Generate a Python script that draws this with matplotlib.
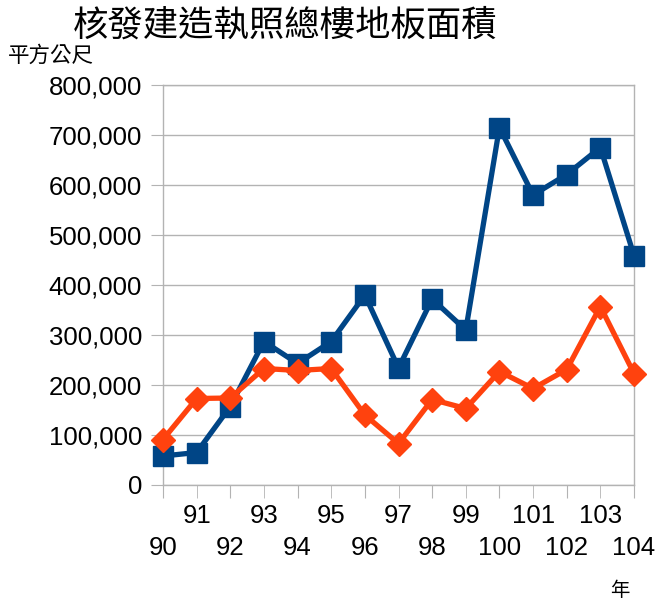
import matplotlib
matplotlib.use("Agg")
import matplotlib.pyplot as plt
from matplotlib.ticker import FuncFormatter, FixedLocator

years = list(range(90, 105))
series_blue = [58000, 65000, 157000, 287000, 243000, 287000, 380000, 234000,
               372000, 310000, 715000, 580000, 621000, 675000, 459000]
series_orange = [91000, 173000, 174000, 233000, 229000, 233000, 140000, 83000,
                 171000, 153000, 227000, 193000, 231000, 357000, 223000]
title = "核發建造執照總樓地板面積"
ylabel = "平方公尺"
xlabel = "年"

cjk = ["Noto Sans CJK TC", "DejaVu Sans"]
num_font = "Liberation Sans"

fig = plt.figure(figsize=(6.56, 6.03), dpi=100)
ax = fig.add_axes([163/656, 118/603, (634-163)/656, 400/603])

ax.plot(years, series_blue, color="#004586", lw=3.8, marker="s", ms=15,
        clip_on=False, zorder=3)
ax.plot(years, series_orange, color="#ff420e", lw=3.8, marker="D", ms=12,
        clip_on=False, zorder=4)

ax.set_xlim(90, 104)
ax.set_ylim(0, 800000)
ax.set_yticks(range(0, 800001, 100000))
ax.yaxis.set_major_formatter(FuncFormatter(lambda v, p: f"{int(v):,}"))
ax.grid(axis="y", color="#b3b3b3", lw=1)
ax.set_axisbelow(True)
for s in ax.spines.values():
    s.set_color("#b3b3b3")
    s.set_linewidth(1)

even = [y for y in years if y % 2 == 0]
odd = [y for y in years if y % 2 == 1]
ax.xaxis.set_major_locator(FixedLocator(even))
ax.xaxis.set_minor_locator(FixedLocator(odd))
ax.set_xticklabels([str(y) for y in even])
ax.set_xticklabels([str(y) for y in odd], minor=True)
ax.tick_params(axis="x", which="major", length=9, color="#b3b3b3", pad=28, labelsize=18.5)
ax.tick_params(axis="x", which="minor", length=9, color="#b3b3b3", pad=5, labelsize=18.5)
ax.tick_params(axis="y", length=9, color="#b3b3b3", pad=6, labelsize=18.5)
for lab in ax.get_xticklabels(which="both") + ax.get_yticklabels():
    lab.set_fontfamily(num_font)

fig.text(285/656, 1 - 26/603, title, ha="center", va="center",
         fontsize=25.5, family=cjk)
fig.text(8/656, 1 - 56/603, ylabel, ha="left", va="center",
         fontsize=15.5, family=cjk)
fig.text(620/656, 1 - 590/603, xlabel, ha="center", va="center",
         fontsize=14, family=cjk)

fig.savefig("out.png", dpi=100)
